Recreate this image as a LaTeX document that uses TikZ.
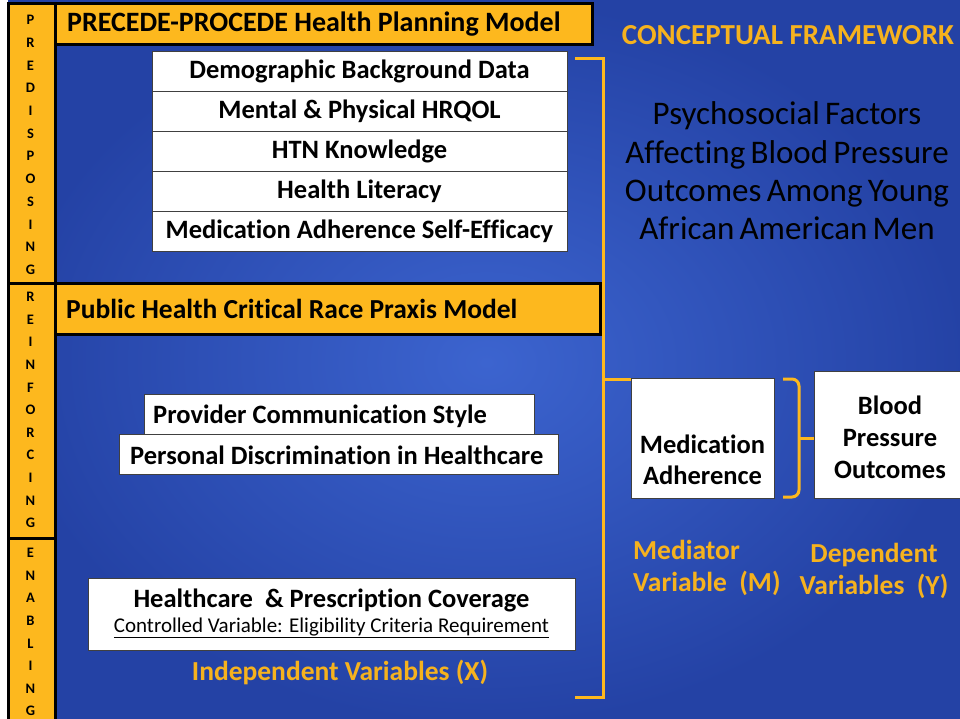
\documentclass[tikz,border=0pt]{standalone}
\usepackage{fontspec}
\setmainfont{Carlito}[Ligatures=NoCommon]
\newcommand{\myfs}[2]{\fontsize{#1}{#2}\selectfont}
\newcommand{\tightsp}{\spaceskip=0.16em plus 0.05em minus 0.02em\relax}
\definecolor{gold}{RGB}{253,184,30}
\definecolor{txtgold}{RGB}{246,178,30}
\definecolor{bluein}{RGB}{60,100,207}
\definecolor{blueout}{RGB}{36,66,165}
\tikzset{
  wbox/.style={draw=black!75, fill=white, line width=0.9pt, inner sep=0pt, font=\bfseries\myfs{26.5}{31}},
  sline/.style={text height=16pt, text depth=0pt},
  btext/.style={inner sep=0pt, font=\bfseries\myfs{26.5}{31}},
  hdr/.style={draw=black, fill=gold, line width=3pt},
  hdrtext/.style={anchor=west, inner sep=0pt, font=\bfseries\myfs{28}{32}},
  strip/.style={draw=black, fill=gold, line width=3pt},
  letter/.style={font=\bfseries\myfs{14.5}{17}, inner sep=0pt},
  brk/.style={draw=gold, line width=3pt},
  gtext/.style={text=txtgold, font=\bfseries\myfs{27.5}{32}, align=center, inner sep=0pt}
}
\begin{document}
\begin{tikzpicture}[x=1pt,y=-1pt]
\useasboundingbox (0,0) rectangle (960,719);
\clip (0,0) rectangle (960,719);
\fill[white] (0,0) rectangle (960,719);
\shade[inner color=bluein, outer color=blueout] (8,0) rectangle (965,725);
% left strip
\draw[strip] (8,4) rectangle (55,730);
\draw[black, line width=3pt] (8,283) -- (55,283);
\draw[black, line width=3pt] (8,538) -- (55,538);
\foreach \l [count=\i] in {P,R,E,D,I,S,P,O,S,I,N,G}
  \node[letter] (pre\i) at (30.5,{20+22.7*(\i-1)}) {\l};
\foreach \l [count=\i] in {R,E,I,N,F,O,R,C,I,N,G}
  \node[letter] (rei\i) at (30.5,{297+22.6*(\i-1)}) {\l};
\foreach \l [count=\i] in {E,N,A,B,L,I,N,G}
  \node[letter] (ena\i) at (30.5,{553+22.6*(\i-1)}) {\l};
% headers
\draw[hdr] (55,4) rectangle (592,45);
\node[hdrtext] (h1) at (67,24.5) {PRECEDE-PROCEDE Health Planning Model};
\draw[hdr] (55,283) rectangle (600,334);
\node[hdrtext, font=\bfseries\myfs{27.5}{32}] (h2) at (66,308.5) {Public Health Critical Race Praxis Model};
% predisposing boxes
\node[wbox, sline, minimum width=415pt, minimum height=40pt] (demo) at (359.5,71) {Demographic Background Data};
\node[wbox, sline, minimum width=415pt, minimum height=40pt] (hrqol) at (359.5,111) {Mental \& Physical HRQOL};
\node[wbox, sline, minimum width=415pt, minimum height=40pt] (htn) at (359.5,151) {HTN Knowledge};
\node[wbox, sline, minimum width=415pt, minimum height=40pt] (hl) at (359.5,191) {Health Literacy};
\node[wbox, sline, minimum width=415pt, minimum height=40pt] (mase) at (359.5,231) {Medication Adherence Self-Efficacy};
% reinforcing boxes
\node[wbox, minimum width=390pt, minimum height=40pt] (pcs) at (339,414) {};
\node[btext, sline, anchor=west] (pcst) at (153,415) {Provider Communication Style};
\node[wbox, minimum width=439pt, minimum height=40pt] (pdh) at (338.5,454) {};
\node[btext, sline, anchor=west] (pdht) at (130,456) {Personal Discrimination in Healthcare};
% enabling box
\node[wbox, minimum width=487pt, minimum height=72pt] (hpc) at (331.5,614) {};
\node[btext] (hpct) at (331.5,600) {Healthcare \ \& Prescription Coverage};
\node[font=\myfs{21}{25}, inner sep=0pt] (hpcc) at (331.5,628) {\underline{Controlled Variable: Eligibility Criteria Requirement}};
\node[gtext] (iv) at (340,672) {Independent Variables (X)};
% right side
\node[gtext, font=\bfseries\myfs{29}{34}] (cf) at (788,35) {CONCEPTUAL FRAMEWORK};
\node[font=\myfs{33}{38.3}, align=center, inner sep=0pt] (title) at (787,171) {\tightsp Psychosocial Factors\\\tightsp Affecting Blood Pressure\\\tightsp Outcomes Among Young\\\tightsp African American Men};
\node[wbox, minimum width=143pt, minimum height=120pt] (med) at (702.5,438) {};
\node[btext, align=center] (medt) at (702.5,460) {Medication\\Adherence};
\node[wbox, minimum width=150pt, minimum height=127pt] (bp) at (889,434.5) {};
\node[btext, font=\bfseries\myfs{26.5}{32}, align=center] (bpt) at (890,437) {Blood\\Pressure\\Outcomes};
\node[gtext, align=left, anchor=west] (mv) at (633,568) {Mediator\\Variable \ (M)};
\node[gtext] (dv) at (874,571) {Dependent\\Variables \ (Y)};
% big bracket
\coordinate (b1) at (575,59);
\coordinate (b2) at (603,59);
\coordinate (b3) at (603,697);
\coordinate (b4) at (575,697);
\coordinate (bt) at (603,379);
\draw[brk] (b1) -- (b2) -- (b3) -- (b4);
\draw[brk] (bt) -- (bt -| med.west);
% small bracket
\coordinate (c1) at (783,379);
\coordinate (c2) at (799,379);
\coordinate (c3) at (799,497);
\coordinate (c4) at (783,497);
\coordinate (ct) at (799,438);
\draw[brk, rounded corners=7pt] (c1) -- (c2) -- (c3) -- (c4);
\draw[brk] (ct) -- (ct -| bp.west);
\end{tikzpicture}
\end{document}
